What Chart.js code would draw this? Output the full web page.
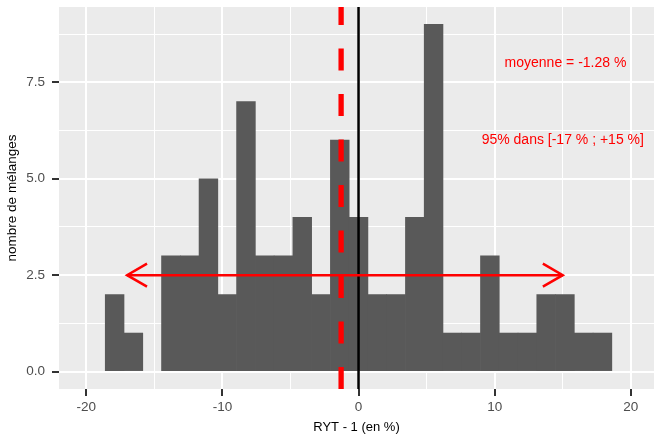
<!DOCTYPE html>
<html>
<head>
<meta charset="utf-8">
<script src="https://cdn.jsdelivr.net/npm/chart.js@4"></script>
<style>
  body { margin: 0; background: #fff; }
  canvas { display: block; }
</style>
</head>
<body>
<canvas id="myChart" width="654" height="434"></canvas>
<script>
// bin centres (RYT - 1, en %) and counts of the histogram
const binCenters = [-17.914, -16.536, -15.158, -13.780, -12.402, -11.024, -9.646, -8.268, -6.890,
  -5.512, -4.134, -2.756, -1.378, 0, 1.378, 2.756, 4.134, 5.512, 6.890, 8.268, 9.646, 11.024,
  12.402, 13.780, 15.158, 16.536, 17.914];
const counts = [2, 1, 0, 3, 3, 5, 2, 7, 3, 3, 4, 2, 6, 4, 2, 2, 4, 9, 1, 1, 3, 1, 1, 2, 2, 1, 1];

const meanValue = -1.28;
const interval95 = [-17, 15];
const arrowLevel = 2.5;
const labels = [
  {x: 15.2, y: 8, text: 'moyenne = -1.28 %'},
  {x: 15, y: 6, text: '95% dans [-17 % ; +15 %]'}
];

const FONT = '"Liberation Sans", Arial, Helvetica, sans-serif';

const panelBg = {
  id: 'panelBg',
  beforeDraw(chart) {
    const {ctx, chartArea: a} = chart;
    ctx.save();
    ctx.fillStyle = '#EBEBEB';
    ctx.fillRect(a.left, a.top, a.right - a.left, a.bottom - a.top);
    ctx.restore();
  }
};

const overlays = {
  id: 'overlays',
  afterDatasetsDraw(chart) {
    const {ctx, chartArea: a, scales: {x, y}} = chart;
    ctx.save();
    ctx.beginPath();
    ctx.rect(a.left, a.top, a.right - a.left, a.bottom - a.top);
    ctx.clip();

    // vertical line at 0
    const x0 = x.getPixelForValue(0);
    ctx.strokeStyle = '#000';
    ctx.lineWidth = 2.5;
    ctx.beginPath();
    ctx.moveTo(x0, a.bottom);
    ctx.lineTo(x0, a.top);
    ctx.stroke();

    // dashed mean line
    const xm = x.getPixelForValue(meanValue);
    ctx.strokeStyle = '#FF0000';
    ctx.lineWidth = 5.3;
    ctx.lineCap = 'butt';
    ctx.setLineDash([22, 23.5]);
    ctx.beginPath();
    ctx.moveTo(xm, a.bottom);
    ctx.lineTo(xm, a.top);
    ctx.stroke();
    ctx.setLineDash([]);

    // double arrow for the 95% interval
    const xa = x.getPixelForValue(interval95[0]);
    const xb = x.getPixelForValue(interval95[1]);
    const ya = y.getPixelForValue(arrowLevel);
    const hl = 23, ang = Math.PI / 6;
    ctx.lineWidth = 2.5;
    ctx.beginPath();
    ctx.moveTo(xa, ya);
    ctx.lineTo(xb, ya);
    ctx.stroke();
    ctx.beginPath();
    ctx.moveTo(xa + hl * Math.cos(ang), ya - hl * Math.sin(ang));
    ctx.lineTo(xa, ya);
    ctx.lineTo(xa + hl * Math.cos(ang), ya + hl * Math.sin(ang));
    ctx.moveTo(xb - hl * Math.cos(ang), ya - hl * Math.sin(ang));
    ctx.lineTo(xb, ya);
    ctx.lineTo(xb - hl * Math.cos(ang), ya + hl * Math.sin(ang));
    ctx.stroke();

    // text labels
    ctx.fillStyle = '#FF0000';
    ctx.font = '14px ' + FONT;
    ctx.textAlign = 'center';
    ctx.textBaseline = 'middle';
    labels.forEach(l => ctx.fillText(l.text, x.getPixelForValue(l.x), y.getPixelForValue(l.y)));
    ctx.restore();
  }
};

const isMajor = (v, step) => Math.abs(v / step - Math.round(v / step)) < 1e-6;
const tickVal = c => (c.tick ? c.tick.value : NaN);

const myChart = new Chart(document.getElementById('myChart'), {
  type: 'bar',
  data: {
    datasets: [{
      data: binCenters.map((c, i) => ({x: c, y: counts[i] || null})),
      backgroundColor: '#595959',
      borderWidth: 0,
      barPercentage: 1,
      categoryPercentage: 1
    }]
  },
  options: {
    responsive: false,
    animation: false,
    layout: {padding: {top: 7, right: 0, left: 0, bottom: 0}},
    plugins: {legend: {display: false}, tooltip: {enabled: false}},
    scales: {
      x: {
        type: 'linear',
        min: -22,
        max: 21.7,
        offset: false,
        afterFit: s => { s.height = 45; s.paddingLeft = 0; s.paddingRight = 0; },
        border: {display: false},
        grid: {
          offset: false,
          color: '#FFFFFF',
          lineWidth: c => isMajor(tickVal(c), 10) ? 2 : 1,
          tickColor: c => isMajor(tickVal(c), 10) ? '#333333' : 'rgba(0,0,0,0)',
          tickWidth: 2,
          tickLength: 7
        },
        ticks: {
          stepSize: 5,
          includeBounds: false,
          padding: 3,
          color: '#4D4D4D',
          font: {family: FONT, size: 13.5},
          maxRotation: 0,
          callback: v => isMajor(v, 10) ? String(v) : ''
        },
        title: {
          display: true,
          text: 'RYT - 1 (en %)',
          color: '#000',
          font: {family: FONT, size: 13, lineHeight: 1},
          padding: {top: 0, bottom: 0}
        }
      },
      y: {
        min: -0.45,
        max: 9.45,
        afterFit: s => { s.width = 59; s.paddingTop = 0; s.paddingBottom = 0; },
        border: {display: false},
        grid: {
          color: '#FFFFFF',
          lineWidth: c => isMajor(tickVal(c), 2.5) ? 2 : 1,
          tickColor: c => isMajor(tickVal(c), 2.5) ? '#333333' : 'rgba(0,0,0,0)',
          tickWidth: 2,
          tickLength: 7
        },
        ticks: {
          stepSize: 1.25,
          includeBounds: false,
          padding: 7,
          color: '#4D4D4D',
          font: {family: FONT, size: 13.5},
          callback: v => isMajor(v, 2.5) ? v.toFixed(1) : ''
        },
        title: {
          display: true,
          text: 'nombre de mélanges',
          color: '#000',
          font: {family: FONT, size: 13.5, lineHeight: 1.2},
          padding: {top: 4.5, bottom: 0}
        }
      }
    }
  },
  plugins: [panelBg, overlays]
});
</script>
</body>
</html>
